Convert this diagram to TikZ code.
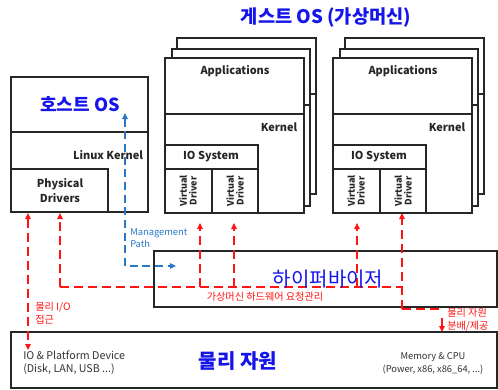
\documentclass[tikz,border=0pt]{standalone}
\usepackage{fontspec}
\setmainfont{Noto Sans CJK KR}
\usetikzlibrary{fit,arrows.meta}
\definecolor{titleblue}{RGB}{20,20,235}
\definecolor{pathblue}{RGB}{40,120,200}
\definecolor{flowred}{RGB}{255,20,20}

\begin{document}
\begin{tikzpicture}[x=0.75pt,y=-0.75pt,
  frame/.style={draw=black!85, line width=1.3pt, fill=white, inner sep=0pt},
  rule/.style={draw=black!85, line width=1.3pt},
  lbl/.style={font=\fontsize{8.2}{10}\selectfont\bfseries, inner sep=0pt, text=black!85},
  vdrv/.style={font=\fontsize{6.8}{7.4}\selectfont\bfseries, inner sep=0pt, rotate=90, align=center, text=black!85},
  note/.style={font=\fontsize{7}{9.4}\selectfont, inner sep=0pt, align=left, text=black!80},
  redlbl/.style={font=\fontsize{7.6}{9.6}\selectfont, inner sep=0pt, align=left, text=flowred},
  bluelbl/.style={font=\fontsize{7}{9.4}\selectfont, inner sep=0pt, align=left, text=pathblue},
  big/.style={font=\fontsize{14}{16}\selectfont\bfseries, inner sep=0pt, text=titleblue},
  reddash/.style={draw=flowred, line width=1.2pt, dash pattern=on 7pt off 3.5pt},
  bluedash/.style={draw=pathblue, line width=1.1pt, dash pattern=on 6pt off 3.5pt},
  tip/.style={-{Triangle[length=4.5pt,width=4pt]}},
  bitip/.style={{Triangle[length=4.5pt,width=4pt]}-{Triangle[length=4.5pt,width=4pt]}},
]
\useasboundingbox (0,0) rectangle (498,389);

% ---------- host OS ----------
\node[frame, fit={(11,77)(148,212)}] (host) {};
\draw[rule] (11,132) -- (148,132);
\node[frame, fit={(11,169)(108,212)}] (pd) {};
\node[big, font=\fontsize{13.5}{16}\selectfont\bfseries] (hosttitle) at (80,104) {호스트 OS};
\node[lbl] (linuxk) at (108,155) {Linux Kernel};
\node[lbl, align=center, font=\fontsize{8.2}{11.2}\selectfont\bfseries] (pdlbl) at (60,190.5) {Physical\\Drivers};

% ---------- guest OS title ----------
\node[big] (guesttitle) at (326,18) {게스트 OS (가상머신)};

% ---------- guest VM stacks ----------
\foreach \dx/\nm in {0/a, 168/b}{
  \node[frame, fit={(177+\dx,38)(316+\dx,194)}] (\nm3) {};
  \draw[rule] (177+\dx,94) -- (316+\dx,94);
  \node[frame, fit={(172+\dx,49)(310+\dx,206)}] (\nm2) {};
  \draw[rule] (172+\dx,105) -- (310+\dx,105);
  \node[frame, fit={(165+\dx,58)(304+\dx,213)}] (\nm1) {};
  \draw[rule] (165+\dx,114) -- (304+\dx,114);
  \node[frame, fit={(165+\dx,145)(258+\dx,213)}] (\nm io) {};
  \draw[rule] (165+\dx,169) -- (258+\dx,169);
  \draw[rule] (212+\dx,169) -- (212+\dx,213);
  \node[lbl] (\nm app) at (235+\dx,71) {Applications};
  \node[lbl] (\nm ker) at (279+\dx,127) {Kernel};
  \node[lbl] (\nm ios) at (211+\dx,157) {IO System};
  \node[vdrv] (\nm vd1) at (188+\dx,191) {Virtual\\Driver};
  \node[vdrv] (\nm vd2) at (235+\dx,191) {Virtual\\Driver};
}

% ---------- hypervisor ----------
\node[frame, fit={(154,251)(497,307)}] (hyp) {};

% ---------- physical resources ----------
\node[frame, fit={(11,332)(497,388)}] (res) {};
\node[big, font=\fontsize{15}{17}\selectfont\bfseries] (restitle) at (238,361) {물리 자원};
\node[note, anchor=west, font=\fontsize{8}{10}\selectfont] (iodev) at (23,362.5) {IO \& Platform Device\\(Disk, LAN, USB ...)};
\node[note, align=center] (memcpu) at (433,363.5) {Memory \& CPU\\(Power, x86, x86\_64, ...)};

% ---------- arrow end points ----------
\coordinate (pdL) at (28,213);
\coordinate (resL) at (28,350);
\coordinate (pdR) at (60,213);
\coordinate (bendL) at (60,287);
\coordinate (bendR) at (402,287);
\coordinate (a1t) at (200,223);  \coordinate (a1b) at (200,287);
\coordinate (a2t) at (234,223);  \coordinate (a2b) at (234,287);
\coordinate (b1t) at (357,223);  \coordinate (b1b) at (357,287);
\coordinate (b2t) at (402,213);
\coordinate (b2b) at (402,309);
\coordinate (allocR) at (440,309);
\coordinate (allocS) at (442,318);
\coordinate (allocE) at (442,332);
\coordinate (mgTop) at (125,113);
\coordinate (mgBend) at (125,266);
\coordinate (mgEnd) at (176,266);

% ---------- red hardware paths ----------
\draw[reddash, bitip] (pdL) -- (resL);
\draw[reddash, tip] (bendL) -- (pdR);
\draw[reddash] (bendL) -- (bendR);
\draw[reddash, tip] (a1b) -- (a1t);
\draw[reddash, tip] (a2b) -- (a2t);
\draw[reddash, tip] (b1b) -- (b1t);
\draw[reddash, tip] (b2b) -- (b2t);
\draw[reddash] (b2b) -- (allocR);
\draw[reddash, tip, dash pattern=on 20pt off 1pt] (allocS) -- (allocE);

% ---------- management path ----------
\draw[bluedash, bitip] (mgTop) -- (mgBend) -- (mgEnd);
\node[bluelbl, anchor=west] (mglbl) at (130,238) {Management\\Path};

% ---------- labels on top ----------
\node[big, font=\fontsize{15}{17}\selectfont] (hyptitle) at (328,279) {하이퍼바이저};
\node[redlbl] (vmreq) at (265,297) {가상머신 하드웨어 요청관리};
\node[redlbl, anchor=west] (physio) at (35,313) {물리 I/O\\접근};
\node[redlbl, anchor=west] (alloc) at (447,319.5) {물리 자원\\분배/제공};
\end{tikzpicture}
\end{document}
